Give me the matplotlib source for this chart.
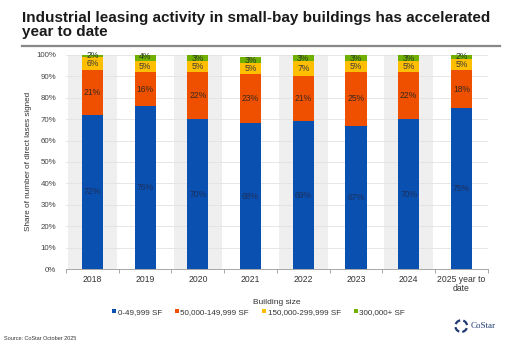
import matplotlib.pyplot as plt
from matplotlib.patches import Arc

plt.rcParams['font.family'] = ['Liberation Sans', 'DejaVu Sans']

# data
years = ["2018", "2019", "2020", "2021", "2022", "2023", "2024", "2025 year to\ndate"]
small = [72, 76, 70, 68, 69, 67, 70, 75]
mid = [21, 16, 22, 23, 21, 25, 22, 18]
large = [6, 5, 5, 5, 7, 5, 5, 5]
xlarge = [2, 4, 3, 3, 3, 3, 3, 2]
series_names = ["0-49,999 SF", "50,000-149,999 SF", "150,000-299,999 SF", "300,000+ SF"]
colors = ["#0a50b0", "#ee5000", "#ffbf00", "#72b000"]
label_colors = ["#1c2f5c", "#3a2a20", "#3a3a3a", "#2a3a20"]

fig = plt.figure(figsize=(5.2, 3.46), dpi=100)
ax = fig.add_axes([0.127, 0.2225, 0.811, 0.619])

x = list(range(len(years)))

# alternating grey bands behind every other bar
for i in x:
    if i % 2 == 0:
        ax.axvspan(i - 0.46, i + 0.46, color="#efefef", zorder=0, lw=0)

for yv in range(10, 101, 10):
    ax.axhline(yv, color="#e2e2e2", lw=0.6, zorder=0.5)

bottom = [0] * len(years)
for vals, col, lc, name in zip([small, mid, large, xlarge], colors, label_colors, series_names):
    ax.bar(x, vals, width=0.4, bottom=bottom, color=col, label=name, zorder=2)
    for i, v in enumerate(vals):
        mid_y = min(bottom[i] + v / 2, 99.6)
        ax.text(i, mid_y, f"{v}%", ha="center", va="center", fontsize=6.2,
                color=lc, zorder=3, clip_on=False)
    bottom = [b + v for b, v in zip(bottom, vals)]

ax.set_xlim(-0.5, len(years) - 0.5)
ax.set_ylim(0, 100)
ax.set_yticks(range(0, 101, 10))
ax.set_yticklabels([f"{v}%" for v in range(0, 101, 10)], fontsize=5.7, color="#444444")
ax.set_xticks(x)
ax.set_xticklabels(years, fontsize=6.2, color="#333333", linespacing=1.1)
ax.set_xticks([i - 0.5 for i in range(len(years) + 1)], minor=True)
ax.tick_params(axis="x", which="major", length=0, pad=4)
ax.tick_params(axis="x", which="minor", length=3, color="#999999", width=0.6)
ax.tick_params(axis="y", length=0, pad=7)
for s in ["top", "right", "left"]:
    ax.spines[s].set_visible(False)
ax.spines["bottom"].set_color("#999999")
ax.spines["bottom"].set_linewidth(0.6)

ax.set_xlabel("Building size", fontsize=6, color="#333333", labelpad=4)
ax.set_ylabel("Share of number of direct lases signed", fontsize=5.9, color="#333333", labelpad=3)

fig.legend(loc="center", bbox_to_anchor=(0.497, 0.098), ncol=4, frameon=False,
           fontsize=5.8, handlelength=0.5, handleheight=0.5, handletextpad=0.2,
           columnspacing=1.6, labelcolor="#333333")

# title and rule
fig.text(0.042, 0.967, "Industrial leasing activity in small-bay buildings has accelerated\nyear to date",
         fontsize=11, fontweight="bold", va="top", ha="left", linespacing=0.95, color="#1a1a1a")
fig.add_artist(plt.Line2D([0.042, 0.962], [0.868, 0.868], color="#888888", lw=1.6))

fig.text(0.008, 0.017, "Source: CoStar October 2025", fontsize=4, color="#333333")

# small CoStar logo
lax = fig.add_axes([0.872, 0.035, 0.03, 0.045])
lax.set_xlim(-1, 1)
lax.set_ylim(-1, 1)
lax.axis("off")
for a in [10, 100, 190, 280]:
    lax.add_patch(Arc((0, 0), 1.5, 1.5, theta1=a, theta2=a + 60, color="#1f3a70", lw=1.6))
fig.text(0.905, 0.058, "CoStar", fontsize=6.5, family="Liberation Serif", va="center",
         color="#1f3a70")

plt.savefig("out.png", dpi=100)
